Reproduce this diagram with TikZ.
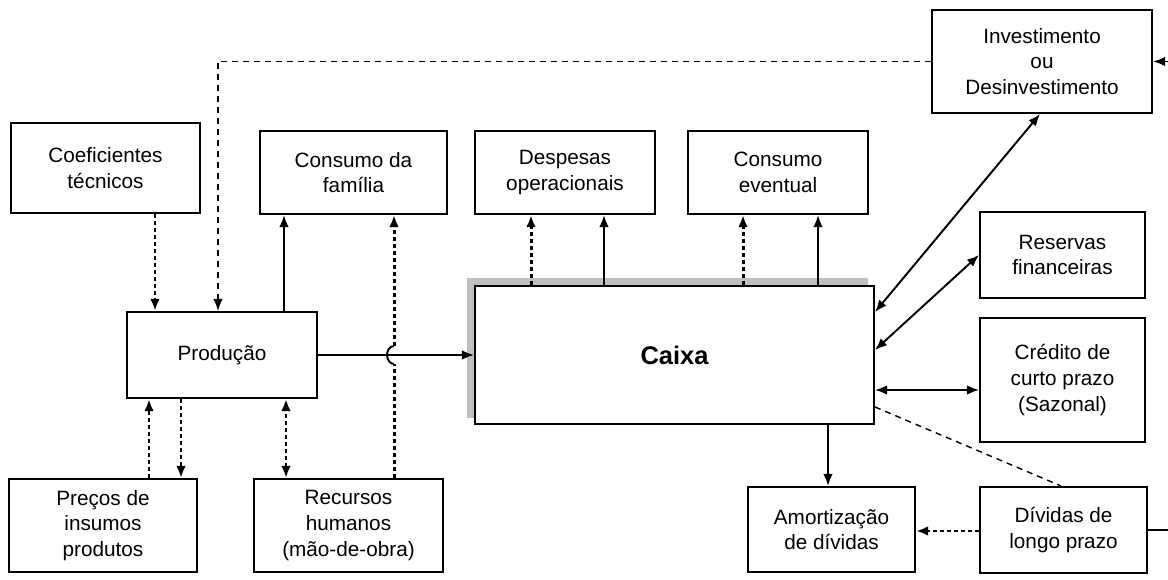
\documentclass[tikz,border=0pt]{standalone}
\usepackage{fontspec}
\setmainfont{Liberation Sans}
\usetikzlibrary{arrows.meta, backgrounds}

\begin{document}
\begin{tikzpicture}[
    x=0.02cm, y=-0.02cm,
    font=\fontsize{11.8}{14.6}\selectfont,
    >={Latex[length=0.24cm,width=0.19cm]},
    box/.style={rectangle, draw=black, line width=1.2pt, fill=white, align=center, inner sep=2pt},
    ln/.style={line width=1.1pt},
    dotln/.style={line width=1.7pt, dash pattern=on 0.08cm off 0.06cm},
    dashln/.style={line width=0.8pt, dash pattern=on 0.12cm off 0.1cm}
]
\useasboundingbox (0,0) rectangle (1168,580);

% boxes
\node[box, minimum width=3.78cm, minimum height=1.8cm] (coef) at (105.5,168) {Coeficientes\\técnicos};
\node[box, minimum width=3.74cm, minimum height=1.66cm] (famil) at (353.5,172.5) {Consumo da\\família};
\node[box, minimum width=3.6cm, minimum height=1.66cm] (desp) at (565,172.5) {Despesas\\operacionais};
\node[box, minimum width=3.6cm, minimum height=1.66cm] (event) at (778,172.5) {Consumo\\eventual};
\node[box, minimum width=4.4cm, minimum height=2.06cm] (invest) at (1042,61.5) {Investimento\\ou\\Desinvestimento};
\node[box, minimum width=3.3cm, minimum height=1.72cm] (reserv) at (1062.5,255) {Reservas\\financeiras};
\node[box, minimum width=3.3cm, minimum height=2.48cm] (credito) at (1062.5,380) {Crédito de\\curto prazo\\(Sazonal)};
\node[box, minimum width=3.8cm, minimum height=1.72cm] (prod) at (222,355) {Produção};
\node[box, minimum width=7.98cm, minimum height=2.76cm, font=\fontsize{14.5}{17}\selectfont\bfseries] (caixa) at (674.5,355) {Caixa};
\node[box, minimum width=3.76cm, minimum height=1.86cm] (precos) at (103,525.5) {Preços de\\insumos\\produtos};
\node[box, minimum width=3.78cm, minimum height=1.86cm] (recur) at (348.5,525.5) {Recursos\\humanos\\(mão-de-obra)};
\node[box, minimum width=3.34cm, minimum height=1.7cm] (amort) at (831.5,529.5) {Amortização\\de dívidas};
\node[box, minimum width=3.34cm, minimum height=1.72cm] (divid) at (1063.5,530) {Dívidas de\\longo prazo};

% shadow of Caixa
\begin{scope}[on background layer]
\fill[black!25] ([shift={(-7,-7)}]caixa.south west) rectangle ([shift={(-7,-7)}]caixa.north east);
\end{scope}

% left part
\draw[dotln, ->] (coef.south -| 155,0) -- (prod.north -| 155,0);
\draw[dashln, ->] (invest.west) -| (prod.north -| 218,0);
\draw[ln, ->] (prod.north -| 284,0) -- (famil.south -| 284,0);
\draw[dotln, ->] (precos.north -| 149,0) -- (prod.south -| 149,0);
\draw[dotln, ->] (prod.south -| 181,0) -- (precos.north -| 181,0);
\draw[dotln, <->] (recur.north -| 286,0) -- (prod.south -| 286,0);
\draw[ln, ->] (prod.east) -- (caixa.west);

% Recursos humanos -> Consumo da familia, hopping over the line
\coordinate (hop) at (prod.east -| 394,0);
\draw[dotln] (recur.north -| hop) -- ([yshift=-0.18cm]hop);
\draw[ln] ([yshift=-0.18cm]hop) arc[start angle=-90, end angle=-270, x radius=0.14cm, y radius=0.18cm];
\draw[dotln, ->] ([yshift=0.18cm]hop) -- (famil.south -| hop);

% top of Caixa
\draw[dotln, ->] (caixa.north -| 531,0) -- (desp.south -| 531,0);
\draw[ln, ->] (caixa.north -| 604,0) -- (desp.south -| 604,0);
\draw[dotln, ->] (caixa.north -| 743,0) -- (event.south -| 743,0);
\draw[ln, ->] (caixa.north -| 818,0) -- (event.south -| 818,0);

% right part
\draw[ln, <->] (caixa.east |- 0,312) -- (invest.south -| 1040,0);
\draw[ln, <->] (caixa.east |- 0,350) -- (reserv.west);
\draw[ln, <->] (caixa.east |- 0,390) -- (credito.west |- 0,390);
\draw[dashln] (caixa.east |- 0,407) -- (divid.north -| 1061,0);
\draw[ln, ->] (caixa.south -| 828,0) -- (amort.north -| 828,0);
\draw[dotln, ->] (divid.west |- 0,531) -- (amort.east |- 0,531);
\draw[ln, ->] (divid.east) -- ++(40,0) |- (invest.east);
\end{tikzpicture}
\end{document}
